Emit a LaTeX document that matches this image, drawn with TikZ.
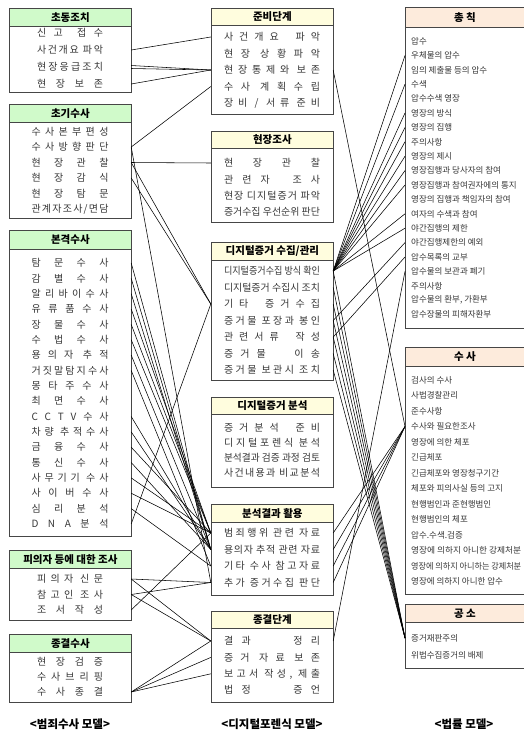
\documentclass[tikz,border=0pt]{standalone}
\usepackage{fontspec}
\setmainfont{Noto Sans CJK KR}
\usepackage{graphicx}
\definecolor{bdr}{RGB}{70,70,70}
\definecolor{hgreen}{RGB}{208,250,202}
\definecolor{hyellow}{RGB}{255,253,222}
\definecolor{hpeach}{RGB}{253,235,220}
\definecolor{txt}{RGB}{55,55,55}
\ExplSyntaxOn
\seq_new:N \l__my_words_seq
\bool_new:N \l__my_fw_bool
\bool_new:N \l__my_fc_bool
\box_new:N \l__my_box
\cs_new_protected:Npn \__my_distribute:n #1
 {
  \seq_set_split:Nnn \l__my_words_seq { ~ } {#1}
  \bool_set_true:N \l__my_fw_bool
  \seq_map_inline:Nn \l__my_words_seq
   {
    \bool_if:NF \l__my_fw_bool { \skip_horizontal:n { 0.25em plus 1fil } }
    \bool_set_true:N \l__my_fc_bool
    \tl_map_inline:nn {##1}
     {
      \bool_if:NF \l__my_fc_bool { \skip_horizontal:n { 0pt plus 1fil } }
      ####1
      \bool_set_false:N \l__my_fc_bool
     }
    \bool_set_false:N \l__my_fw_bool
   }
 }
\cs_new_protected:Npn \__my_jt:nn #1#2
 {
  \hbox_set:Nn \l__my_box {#2}
  \dim_compare:nNnTF { \box_wd:N \l__my_box } > { #1 pt }
   { \resizebox{#1pt}{\height}{#2} }
   { \hbox_to_wd:nn { #1 pt } { \__my_distribute:n {#2} } }
 }
\cs_generate_variant:Nn \__my_jt:nn { no }
\NewDocumentCommand \jt { m m } { \__my_jt:no {#1} {#2} }
\ExplSyntaxOff
\newcommand\sq[2]{\resizebox{#1pt}{\height}{#2}}
\begin{document}
\begin{tikzpicture}[x=1pt,y=-1pt,
 boxst/.style={draw=bdr,line width=0.8pt,fill=white,anchor=north west,inner sep=0pt,minimum width=122pt},
 hdr/.style={draw=bdr,line width=0.8pt,anchor=north west,inner sep=0pt,minimum width=122pt,font=\bfseries\fontsize{10.5}{12}\selectfont},
 itm/.style={inner sep=0pt,minimum width=122pt,text=txt,font=\fontsize{10}{12}\selectfont},
 ritm/.style={inner sep=0pt,inner xsep=6pt,anchor=west,text=txt,font=\fontsize{8.5}{10}\selectfont},
 con/.style={line width=0.55pt,black},
 capt/.style={font=\bfseries\fontsize{11.5}{13}\selectfont}]
\useasboundingbox (0,0) rectangle (523,737);
\fill[white] (0,0) rectangle (523,737);
% ---------- left column ----------
\node[boxst,minimum height=84pt] (B1) at (9,8) {};
\node[hdr,fill=hgreen,minimum height=18pt] (H1) at (9,8) {초동조치};
\node[itm] (a1) at (70,33) {\jt{66}{신 고 \ 접 수}};
\node[itm] (a2) at (70,50) {\jt{66}{사건개요 파악}};
\node[itm] (a3) at (70,67) {\jt{66}{현장응급조치}};
\node[itm] (a4) at (70,84) {\jt{66}{현 장 보 존}};
\node[boxst,minimum height=114pt] (B2) at (9,104) {};
\node[hdr,fill=hgreen,minimum height=18pt] (H2) at (9,104) {초기수사};
\foreach \t [count=\i] in {수사본부편성,수사방향판단,현 장 관 찰,현 장 감 식,현 장 탐 문,관계자조사/면담}
  \node[itm] (b\i) at (70,{131.5+(\i-1)*15.5}) {\jt{77}{\t}};
\node[boxst,minimum height=306pt] (B3) at (9,230) {};
\node[hdr,fill=hgreen,minimum height=19pt] (H3) at (9,230) {본격수사};
\foreach \t [count=\i] in {탐 문 수 사,감 별 수 사,알리바이수사,유류품수사,장 물 수 사,수 법 수 사,용의자 추적,거짓말탐지수사,몽타주수사,최 면 수 사,CCTV수사,차량 추적수사,금 융 수 사,통 신 수 사,사무기기 수사,사이버수사,심 리 분 석,DNA분석}
  \node[itm] (c\i) at (70,{263+(\i-1)*15.35}) {\jt{77}{\t}};
\node[boxst,minimum height=70pt] (B4) at (9,550) {};
\node[hdr,fill=hgreen,minimum height=18pt] (H4) at (9,550) {피의자 등에 대한 조사};
\node[itm] (d1) at (70,579) {\jt{66}{피의자 신문}};
\node[itm] (d2) at (70,594.5) {\jt{66}{참고인 조사}};
\node[itm] (d3) at (70,610) {\jt{66}{조서작성}};
\node[boxst,minimum height=68pt] (B5) at (9,634) {};
\node[hdr,fill=hgreen,minimum height=18pt] (H5) at (9,634) {종결수사};
\node[itm] (e1) at (70,662) {\jt{66}{현장검증}};
\node[itm] (e2) at (70,677) {\jt{66}{수사브리핑}};
\node[itm] (e3) at (70,692) {\jt{66}{수사종결}};
\node[capt] (cap1) at (70,724) {<범죄수사 모델>};
% ---------- middle column ----------
\node[boxst,minimum height=106pt] (M1) at (211,8) {};
\node[hdr,fill=hyellow,minimum height=17pt] (N1) at (211,8) {준비단계};
\node[itm] (p1) at (272,37) {\jt{96}{사건개요 \ 파악}};
\node[itm] (p2) at (272,53.5) {\jt{96}{현장 상황파악}};
\node[itm] (p3) at (272,70) {\jt{96}{현장통제와 보존}};
\node[itm] (p4) at (272,86.5) {\jt{96}{수사 계획수립}};
\node[itm] (p5) at (272,103) {\jt{96}{장비 / 서류 준비}};
\node[boxst,minimum height=91pt] (M2) at (211,131) {};
\node[hdr,fill=hyellow,minimum height=17pt] (N2) at (211,131) {현장조사};
\node[itm] (q1) at (272,163) {\jt{96}{현장관찰}};
\node[itm] (q2) at (272,179.5) {\jt{96}{관련자 \ 조사}};
\node[itm] (q3) at (272,196) {\jt{96}{현장 디지털증거 파악}};
\node[itm] (q4) at (272,212) {\jt{96}{증거수집 우선순위 판단}};
\node[boxst,minimum height=138pt] (M3) at (211,242) {};
\node[hdr,fill=hyellow,minimum height=18pt] (N3) at (211,242) {디지털증거 수집/관리};
\foreach \t [count=\i] in {디지털증거수집 방식 확인,디지털증거 수집시 조치,기타 \ 증거수집,증거물 포장과 봉인,관련서류 \ 작성,증거물 \ \ 이송,증거물 보관시 조치}
  \node[itm] (r\i) at (272,{271+(\i-1)*16.5}) {\jt{96}{\t}};
\node[boxst,minimum height=90pt] (M4) at (211,397) {};
\node[hdr,fill=hyellow,minimum height=17pt] (N4) at (211,397) {디지털증거 분석};
\foreach \t [count=\i] in {증거분석 \ 준비,디지털포렌식 분석,분석결과 검증 과정 검토,사건내용과 비교분석}
  \node[itm] (s\i) at (272,{428+(\i-1)*15}) {\jt{96}{\t}};
\node[boxst,minimum height=91pt] (M5) at (211,504) {};
\node[hdr,fill=hyellow,minimum height=18pt] (N5) at (211,504) {분석결과 활용};
\foreach \t [count=\i] in {범죄행위 관련 자료,용의자 추적 관련 자료,기타 수사 참고자료,추가 증거수집 판단}
  \node[itm] (t\i) at (272,{533+(\i-1)*16.5}) {\jt{96}{\t}};
\node[boxst,minimum height=91pt] (M6) at (211,611) {};
\node[hdr,fill=hyellow,minimum height=17pt] (N6) at (211,611) {종결단계};
\foreach \t [count=\i] in {결과 \ \ \ 정리,증거 자료 보존,보고서 작성{,} 제출,법정 \ \ \ 증언}
  \node[itm] (u\i) at (272,{641+(\i-1)*16.4}) {\jt{96}{\t}};
\node[capt] (cap2) at (272,724) {<디지털포렌식 모델>};
% ---------- right column ----------
\node[boxst,minimum width=119pt,minimum height=321pt] (R1) at (405,7) {};
\node[hdr,fill=hpeach,minimum width=119pt,minimum height=20pt] (S1) at (405,7) {총 칙};
\foreach \t [count=\i] in {압수,우체물의 압수,임의 제출물 등의 압수,수색,압수수색 영장,영장의 방식,영장의 집행,주의사항,영장의 제시,영장집행과 당사자의 참여,영장집행과 참여권자에의 통지,영장의 집행과 책임자의 참여,여자의 수색과 참여,야간집행의 제한,야간집행제한의 예외,압수목록의 교부,압수물의 보관과 폐기,주의사항,{압수물의 환부, 가환부},압수장물의 피해자환부}
  \node[ritm] (g\i) at (405,{41+(\i-1)*14.4}) {\t};
\node[boxst,minimum width=119pt,minimum height=247pt] (R2) at (405,347) {};
\node[hdr,fill=hpeach,minimum width=119pt,minimum height=19pt] (S2) at (405,347) {수 사};
\foreach \t [count=\i] in {검사의 수사,사법경찰관리,준수사항,수사와 필요한조사,영장에 의한 체포,긴급체포,긴급체포와 영장청구기간,체포와 피의사실 등의 고지,현행범인과 준현행범인,현행범인의 체포,압수.수색.검증,\sq{110}{영장에 의하지 아니한 강제처분},\sq{110}{영장에 의하지 아니하는 강제처분},영장에 의하지 아니한 압수}
  \node[ritm] (h\i) at (405,{380+(\i-1)*15.5}) {\t};
\node[boxst,minimum width=119pt,minimum height=64pt] (R3) at (405,604) {};
\node[hdr,fill=hpeach,minimum width=119pt,minimum height=18pt] (S3) at (405,604) {공 소};
\node[ritm] (k1) at (405,638) {증거재판주의};
\node[ritm] (k2) at (405,655) {위법수집증거의 배제};
\node[capt] (cap3) at (464,724) {<법률 모델>};
% ---------- connectors left -> middle ----------
\draw[con] (a2.east) -- (p1.west);
\draw[con] ([yshift=1.5pt]a3.east) -- (p3.west);
\draw[con] ([yshift=-1.5pt]a3.east) -- (p3.west);
\draw[con] (a4.east) -- (p3.west);
\draw[con] (b2.east) -- (p4.west);
\draw[con] (b2.east) -- (t4.west);
\draw[con] (b3.east) -- (q1.west);
\draw[con] (b3.east) -- (r3.west);
\draw[con] (b4.east) -- (r3.west);
\foreach \s/\d in {1/2,2/2,3/2,4/1,5/1,6/1,7/2,8/3,11/2,12/2,13/1,14/2,15/1,16/1,17/3}
  \draw[con] (c\s.east) -- (t\d.west);
\draw[con] (c18.east) -- (r3.west);
\draw[con] (d1.east) -- (t4.west);
\draw[con] (d1.east) -- (u1.west);
\draw[con] (d2.east) -- (t4.west);
\draw[con] (d2.east) -- (u1.west);
\draw[con] (d3.east) -- (t1.west);
\draw[con] (e3.east) -- (u1.west);
\draw[con] (e3.east) -- (u2.west);
\draw[con] (e3.east) -- (u3.west);
% ---------- connectors middle -> right ----------
\draw[con] (p3.east) -- (h4.west);
\foreach \d in {2,4,6,7,8,9,10,11,13,14}
  \draw[con] (r1.east) -- (g\d.west);
\draw[con] (r4.east) -- (g15.west);
\draw[con] (r5.east) -- (g16.west);
\draw[con] (u1.east) -- (g17.west);
\foreach \s in {1,2,3,4}
  \draw[con] (t\s.east) -- (h4.west);
\foreach \s in {1,...,7}
  \draw[con] (r\s.east) -- (k1.west);
\end{tikzpicture}
\end{document}
